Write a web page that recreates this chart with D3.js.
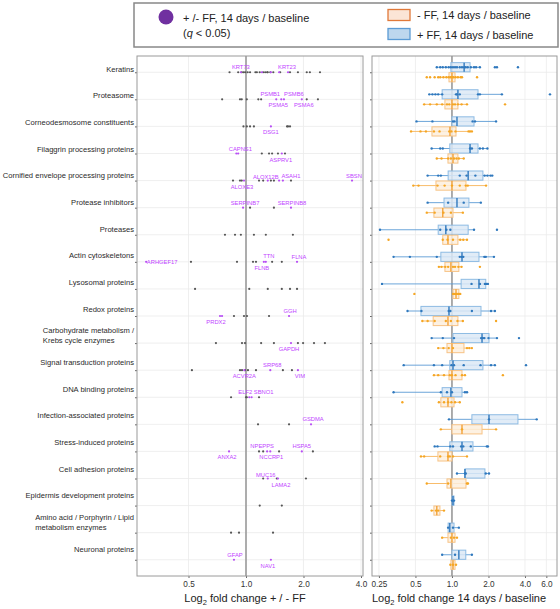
<!DOCTYPE html>
<html>
<head>
<meta charset="utf-8">
<title>Fold change by protein category</title>
<script src="https://d3js.org/d3.v7.min.js"></script>
<style>
  body { margin: 0; background: #fff; }
  text { font-family: "Liberation Sans", Arial, sans-serif; }
</style>
</head>
<body>
<div id="chart"></div>
<script>
// ---- data (fold changes, plotted on log2 axes) ----
const categories = [
  "Keratins", "Proteasome", "Corneodesmosome constituents", "Filaggrin processing proteins",
  "Cornified envelope processing proteins", "Protease inhibitors", "Proteases",
  "Actin cytoskeletons", "Lysosomal proteins", "Redox proteins",
  "Carbohydrate metabolism /\nKrebs cycle enzymes", "Signal transduction proteins",
  "DNA binding proteins", "Infection-associated proteins", "Stress-induced proteins",
  "Cell adhesion proteins", "Epidermis development proteins",
  "Amino acid / Porphyrin / Lipid\nmetabolism enzymes", "Neuronal proteins"
];

// + / - FF, non significant proteins (one array per category)
const nsFC = [
  [0.82, 0.91, 0.95, 0.97, 0.99, 1.02, 1.05, 1.12, 1.14, 1.18, 1.23, 1.26, 1.29, 1.30, 1.34, 1.39, 1.51, 1.70, 1.87, 2.08, 2.16, 2.44],
  [0.75, 0.93, 0.95, 1.01, 1.16, 1.20, 2.08, 2.38],
  [0.97, 1.01, 1.05, 1.10, 1.64, 1.66, 1.70],
  [1.21, 1.32, 1.37, 1.47, 1.60],
  [0.855, 0.93, 0.95, 1.17, 1.23, 1.35, 1.40, 1.72],
  [1.05, 1.40],
  [0.776, 0.876, 0.94, 1.10, 1.27, 1.76],
  [0.515, 0.897, 1.088, 1.128, 1.37, 1.54],
  [0.541, 1.04, 1.30, 1.54, 1.70, 1.85],
  [0.865, 0.976, 1.012, 1.32],
  [0.696, 0.953, 0.988, 1.2, 1.40, 1.87, 1.99, 2.27, 2.59],
  [0.521, 0.93, 0.953, 0.988, 1.024, 1.128, 1.56, 1.74],
  [0.835, 1.0, 1.01, 1.17],
  [1.156, 1.68],
  [1.17, 1.23, 1.49, 2.24],
  [1.23, 1.45, 2.06],
  [1.18, 1.54],
  [0.835, 0.919, 1.385],
  []
];

// + / - FF, significant proteins (q < 0.05)
const sigGene = ["KRT73", "KRT23", "", "", "",
  "PSMB1", "PSMA5", "PSMB6", "PSMA6", "DSG1", "CAPNS1", "", "ASPRV1",
  "ALOXE3", "ALOX12B", "", "ASAH1", "SBSN", "SERPINB7", "SERPINB8",
  "ARHGEF17", "FLNB", "TTN", "FLNA", "PRDX2", "", "GGH", "GAPDH",
  "ACVR2A", "SRP68", "VIM", "ELF2", "SBNO1", "GSDMA",
  "ANXA2", "NPEPPS", "NCCRP1", "HSPA5", "MUC16", "LAMA2", "GFAP", "NAV1"];
const sigCat = [0, 0, 0, 0, 0,
  1, 1, 1, 1, 2, 3, 3, 3,
  4, 4, 4, 4, 4, 5, 5,
  7, 7, 7, 7, 9, 9, 9, 10,
  11, 11, 11, 12, 12, 13,
  14, 14, 14, 14, 15, 15, 18, 18];
const sigFC = [0.94, 1.66, 1.21, 1.35, 1.49,
  1.44, 1.53, 1.58, 1.96, 1.35, 0.89, 0.91, 1.54,
  0.976, 1.30, 1.49, 1.56, 3.59, 0.965, 1.72,
  0.30, 1.24, 1.27, 1.85, 0.731, 0.749, 1.68, 1.72,
  0.98, 1.34, 1.87, 1.04, 1.07, 2.19,
  0.815, 1.29, 1.34, 1.96, 1.30, 1.47, 0.865, 1.35];

// 14 days / baseline boxplots: [lower whisker, q1, median, q3, upper whisker]
const plusBox = [
  [0.75, 0.98, 1.26, 1.41, 1.70], [0.65, 0.83, 1.12, 1.64, 2.58], [0.51, 1.0, 1.10, 1.52, 2.31],
  [0.68, 0.96, 1.41, 1.64, 1.98], [0.63, 0.93, 1.36, 1.80, 2.18], [0.63, 0.86, 1.10, 1.38, 1.73],
  [0.255, 0.77, 0.89, 1.36, 1.52], [0.33, 0.81, 1.21, 1.67, 2.22], [0.265, 1.19, 1.67, 1.90, 1.98],
  [0.43, 0.555, 0.945, 1.735, 2.26], [0.68, 1.02, 1.77, 2.02, 2.35], [0.40, 0.96, 1.02, 1.80, 2.26],
  [0.33, 0.83, 0.98, 1.21, 1.36], [0.945, 1.46, 2.02, 3.50, 5.0], [0.72, 0.96, 1.21, 1.49, 1.98],
  [1.10, 1.28, 1.28, 1.87, 2.02], [1.0, 1.0, 1.02, 1.04, 1.04], [0.93, 0.93, 0.96, 1.04, 1.14],
  [0.83, 1.0, 1.14, 1.30, 1.46]
];
const plusPts = [
  [0.75, 0.80, 0.84, 0.89, 0.94, 0.98, 1.02, 1.06, 1.10, 1.16, 1.21, 1.26, 1.30, 1.35, 1.43, 1.52, 1.58, 1.70, 2.26, 2.35, 3.50],
  [0.65, 0.69, 0.73, 0.77, 0.83, 1.08, 1.10, 1.16, 1.64, 1.70, 2.58, 6.43],
  [0.51, 0.69, 1.02, 1.05, 1.48, 1.55, 2.31],
  [0.68, 0.80, 0.84, 1.41, 1.46, 1.70, 1.80, 1.96],
  [0.63, 0.77, 0.81, 1.16, 1.32, 1.56, 1.86, 1.96, 2.08, 2.15],
  [0.63, 0.93, 1.25, 1.73],
  [0.255, 0.80, 0.90, 0.97, 1.52, 2.35],
  [0.33, 0.45, 0.75, 1.16, 1.20, 1.24, 1.85, 1.90, 2.22],
  [0.265, 1.45, 1.70, 1.87, 1.92, 1.98],
  [0.43, 0.56, 0.94, 0.97, 1.46, 2.10, 2.26],
  [0.68, 0.84, 1.04, 1.74, 1.80, 1.85, 2.0, 2.35, 3.57],
  [0.40, 0.71, 0.83, 0.99, 1.04, 1.25, 1.72, 2.10, 2.26, 4.08],
  [0.33, 0.81, 0.91, 1.0, 1.28, 1.33],
  [0.945, 2.02, 5.0],
  [0.72, 0.76, 0.97, 1.02, 1.19, 1.24, 1.43, 1.94, 1.98],
  [1.10, 1.28, 1.30, 1.90, 2.02],
  [1.0, 1.02, 1.04],
  [0.93, 1.02, 1.14],
  [0.83, 1.06, 1.46]
];
const minusBox = [
  [0.80, 0.945, 1.0, 1.06, 1.21], [0.59, 0.875, 1.0, 1.12, 1.33], [0.46, 0.684, 0.963, 1.08, 1.46],
  [0.75, 0.927, 1.02, 1.12, 1.26], [0.477, 0.738, 1.0, 1.305, 1.905], [0.62, 0.71, 0.84, 1.02, 1.23],
  [0.83, 0.84, 0.927, 1.12, 1.33], [0.78, 0.875, 0.98, 1.14, 1.21], [1.02, 1.02, 1.08, 1.14, 1.17],
  [0.566, 0.70, 0.927, 1.12, 1.23], [0.766, 0.91, 1.0, 1.256, 1.46], [0.71, 0.945, 1.0, 1.21, 1.305],
  [0.78, 0.81, 0.927, 1.04, 1.16], [0.81, 1.0, 1.21, 1.77, 2.31], [0.555, 0.766, 0.927, 1.0, 1.33],
  [0.62, 0.91, 0.98, 1.305, 1.355], [0.684, 0.71, 0.75, 0.796, 0.86], [0.827, 0.927, 1.0, 1.06, 1.10],
  [0.97, 0.98, 1.02, 1.06, 1.08]
];
const minusPts = [
  [0.62, 0.66, 0.72, 0.77, 0.80, 0.85, 0.90, 0.94, 0.97, 1.0, 1.03, 1.07, 1.12, 1.18, 1.21, 1.61],
  [0.59, 0.66, 0.75, 0.83, 0.91, 0.95, 1.02, 1.06, 1.12, 1.20, 1.33, 2.74],
  [0.46, 0.55, 0.61, 0.71, 0.79, 0.95, 0.99, 1.07, 1.37, 1.41, 1.46],
  [0.75, 0.82, 0.93, 0.98, 1.04, 1.09, 1.14, 1.25],
  [0.48, 0.53, 0.76, 0.87, 1.0, 1.16, 1.30, 1.35, 1.91],
  [0.62, 0.72, 0.85, 0.98, 1.23],
  [0.30, 0.84, 0.92, 1.02, 1.17, 1.24, 1.33],
  [0.78, 0.82, 0.88, 0.93, 1.02, 1.06, 1.13, 1.20, 1.70],
  [0.49, 1.02, 1.06, 1.10, 1.14, 1.17],
  [0.57, 0.63, 0.72, 0.89, 0.98, 1.11, 1.23, 2.31],
  [0.77, 0.85, 0.94, 1.02, 1.33, 1.39, 1.46],
  [0.71, 0.77, 0.86, 0.96, 1.0, 1.07, 1.21, 1.28, 2.63],
  [0.39, 0.78, 0.86, 0.93, 0.99, 1.06, 1.16],
  [0.81, 1.21, 2.31],
  [0.555, 0.59, 0.80, 0.93, 0.96, 1.02, 1.33],
  [0.62, 0.93, 1.33, 1.355],
  [0.68, 0.74, 0.77, 0.86],
  [0.83, 0.98, 1.04, 1.10],
  [0.97, 1.02, 1.08]
];

const leftTicks = [0.5, 1, 2, 4];
const rightTicks = [0.25, 0.5, 1, 2, 4, 6];
const rightTickLabels = ["0.25", "0.5", "1.0", "2.0", "4.0", "6.0"];

// label placement for the repelled gene names: [dx, dy] from the point
const labelNudge = {
  KRT73: [0, -5], KRT23: [-1, -5], PSMB1: [-6, -5], PSMB6: [10, -5], PSMA5: [-3, 6], PSMA6: [2, 6],
  DSG1: [0, 6], CAPNS1: [4, -5], ASPRV1: [-1, 6], ALOXE3: [-2, 6], ALOX12B: [-2, -4], ASAH1: [8, -5],
  SBSN: [2, -5], SERPINB7: [2, -5], SERPINB8: [1, -5], ARHGEF17: [16, 0], FLNB: [-2, 6], TTN: [3, -6],
  FLNA: [2, -5], PRDX2: [-4, 6], GGH: [1, -5], GAPDH: [-2, 6], SRP68: [2, -5], ACVR2A: [0, 6],
  VIM: [2, 6], ELF2: [-4, -5], SBNO1: [12, -5], GSDMA: [2, -5], ANXA2: [-2, 6], NPEPPS: [-5, -5],
  NCCRP1: [1, 6], HSPA5: [0, -5], MUC16: [-2, -4], LAMA2: [3, 6], GFAP: [1, -5], NAV1: [-3, 6]
};

// ---- layout ----
const W = 560, H = 609;
const panelTop = 56, panelBottom = 576;
const L = {x0: 137, x1: 363};
const R = {x0: 372, x1: 557};

const svg = d3.select("#chart").append("svg")
  .attr("width", W).attr("height", H);

const yScale = d3.scalePoint()
  .domain(categories)
  .range([panelTop, panelBottom])
  .padding(0.6);

// the category names sit on a slightly tighter spacing than the rows
const yLabel = d3.scalePoint()
  .domain(categories)
  .range([69, 549]);

const xLeft = d3.scaleLog().base(2)
  .domain([Math.pow(2, -1.896), Math.pow(2, 2.035)])
  .range([L.x0, L.x1]);

const xRight = d3.scaleLog().base(2)
  .domain([Math.pow(2, -2.19), Math.pow(2, 2.877)])
  .range([R.x0, R.x1]);

function panel(p, xs, ticks, fmt) {
  const g = svg.append("g");
  g.append("rect")
    .attr("x", p.x0).attr("y", panelTop)
    .attr("width", p.x1 - p.x0).attr("height", panelBottom - panelTop)
    .attr("fill", "#fff");
  // grid
  g.selectAll(".vg").data(ticks).enter().append("line")
    .attr("x1", d => xs(d)).attr("x2", d => xs(d))
    .attr("y1", panelTop).attr("y2", panelBottom)
    .attr("stroke", "#ebebeb").attr("stroke-width", 0.8);
  g.selectAll(".hg").data(categories).enter().append("line")
    .attr("x1", p.x0).attr("x2", p.x1)
    .attr("y1", d => yScale(d)).attr("y2", d => yScale(d))
    .attr("stroke", "#ebebeb").attr("stroke-width", 0.8);
  // reference line at 1.0
  g.append("line")
    .attr("x1", xs(1)).attr("x2", xs(1))
    .attr("y1", panelTop).attr("y2", panelBottom)
    .attr("stroke", "#9a9a9a").attr("stroke-width", 1.6);
  // x axis
  const xAxis = d3.axisBottom(xs).tickValues(ticks).tickFormat(fmt)
    .tickSize(2).tickPadding(3);
  const ax = svg.append("g")
    .attr("transform", "translate(0," + panelBottom + ")")
    .call(xAxis);
  ax.select(".domain").remove();
  ax.selectAll("line").attr("stroke", "#666");
  ax.selectAll("text").attr("font-size", "8.2px").attr("fill", "#333")
    .attr("font-family", "Liberation Sans, Arial, sans-serif");
  // y axis ticks (no labels)
  const yAxis = d3.axisLeft(yScale).tickSize(2).tickFormat("");
  const ay = svg.append("g").attr("transform", "translate(" + p.x0 + ",0)").call(yAxis);
  ay.select(".domain").remove();
  ay.selectAll("line").attr("stroke", "#666");
  return g;
}

const gl = panel(L, xLeft, leftTicks, d3.format(".1f"));
const gr = panel(R, xRight, rightTicks, (d, i) => rightTickLabels[i]);

// ---- left panel: + / - FF ----
const nsPoints = [];
nsFC.forEach((arr, i) => arr.forEach(v => nsPoints.push({cat: categories[i], fc: v})));
gl.selectAll(".ns").data(nsPoints).enter().append("circle")
  .attr("cx", d => xLeft(d.fc)).attr("cy", d => yScale(d.cat))
  .attr("r", 1.1).attr("fill", "#555");

const sigPoints = sigGene.map((g, k) => ({gene: g, cat: categories[sigCat[k]], fc: sigFC[k]}));
gl.selectAll(".sig").data(sigPoints).enter().append("circle")
  .attr("cx", d => xLeft(d.fc)).attr("cy", d => yScale(d.cat))
  .attr("r", 1.1).attr("fill", "#b84df5");

gl.selectAll(".lab").data(sigPoints.filter(d => d.gene)).enter().append("text")
  .attr("x", d => xLeft(d.fc) + labelNudge[d.gene][0])
  .attr("y", d => yScale(d.cat) + labelNudge[d.gene][1])
  .attr("text-anchor", "middle")
  .attr("dominant-baseline", "central")
  .attr("font-size", "5.8px")
  .attr("fill", "#bf45ff")
  .text(d => d.gene);

// ---- right panel: boxplots ----
const series = [
  {box: plusBox, pts: plusPts, dy: -5, fill: "#dce9f6", stroke: "#8dbbe3", med: "#2f78bd", pt: "#2f78bd", wh: "#5b9bd5"},
  {box: minusBox, pts: minusPts, dy: 5, fill: "#fdeedd", stroke: "#f7c386", med: "#f2a23a", pt: "#f5a623", wh: "#f7b45a"}
];
const bh = 4.6;
series.forEach(s => {
  categories.forEach((c, i) => {
    const y = yScale(c) + s.dy;
    const b = s.box[i];
    gr.append("line")
      .attr("x1", xRight(b[0])).attr("x2", xRight(b[4]))
      .attr("y1", y).attr("y2", y)
      .attr("stroke", s.wh).attr("stroke-width", 0.9);
    gr.append("rect")
      .attr("x", xRight(b[1])).attr("y", y - bh)
      .attr("width", Math.max(xRight(b[3]) - xRight(b[1]), 1)).attr("height", bh * 2)
      .attr("fill", s.fill).attr("fill-opacity", 0.85)
      .attr("stroke", s.stroke).attr("stroke-width", 1);
    gr.append("line")
      .attr("x1", xRight(b[2])).attr("x2", xRight(b[2]))
      .attr("y1", y - bh).attr("y2", y + bh)
      .attr("stroke", s.med).attr("stroke-width", 1.4);
    gr.selectAll(null).data(s.pts[i]).enter().append("circle")
      .attr("cx", d => xRight(d)).attr("cy", y)
      .attr("r", 1.2).attr("fill", s.pt);
  });
});

// panel borders
[L, R].forEach(p => {
  svg.append("rect")
    .attr("x", p.x0).attr("y", panelTop)
    .attr("width", p.x1 - p.x0).attr("height", panelBottom - panelTop)
    .attr("fill", "none").attr("stroke", "#9a9a9a").attr("stroke-width", 1);
});

// ---- category labels (block left-aligned, right edge at the axis) ----
categories.forEach(c => {
  const lines = c.split("\n");
  const t = svg.append("text")
    .attr("font-size", "7.6px").attr("fill", "#2a2a2a");
  lines.forEach((ln, k) => {
    t.append("tspan").attr("x", 0)
      .attr("y", yLabel(c) + (k - (lines.length - 1) / 2) * 9.5)
      .attr("dominant-baseline", "central")
      .text(ln);
  });
  const wmax = d3.max(t.selectAll("tspan").nodes(), n => n.getComputedTextLength());
  t.attr("transform", "translate(" + (L.x0 - 3 - wmax) + ",0)");
});

// ---- axis titles ----
function axisTitle(x, y, before, after) {
  const t = svg.append("text").attr("x", x).attr("y", y)
    .attr("text-anchor", "middle").attr("font-size", "11px").attr("fill", "#222");
  t.append("tspan").text(before);
  t.append("tspan").attr("font-size", "7.5px").attr("dy", 3).text("2");
  t.append("tspan").attr("dy", -3).text(after);
}
axisTitle(245, 602, "Log", " fold change + / - FF");
axisTitle(459, 602, "Log", " fold change 14 days / baseline");

// ---- legend ----
const lg = svg.append("g");
lg.append("rect").attr("x", 134).attr("y", 3).attr("width", 424).attr("height", 44)
  .attr("fill", "#fff").attr("stroke", "#888").attr("stroke-width", 1.5);
lg.append("circle").attr("cx", 166).attr("cy", 17).attr("r", 7.5).attr("fill", "#7030a0");
lg.append("text").attr("x", 183).attr("y", 21.5).attr("font-size", "11px").attr("fill", "#222")
  .text("+ /- FF, 14 days / baseline");
const q = lg.append("text").attr("x", 183).attr("y", 37).attr("font-size", "11px").attr("fill", "#222");
q.append("tspan").text("(");
q.append("tspan").attr("font-style", "italic").text("q");
q.append("tspan").text(" < 0.05)");
lg.append("rect").attr("x", 388).attr("y", 9.5).attr("width", 22).attr("height", 11)
  .attr("fill", "#fbe5d6").attr("stroke", "#e0793a").attr("stroke-width", 1.3);
lg.append("text").attr("x", 417).attr("y", 19).attr("font-size", "11px").attr("fill", "#222")
  .text("- FF, 14 days / baseline");
lg.append("rect").attr("x", 388).attr("y", 28.5).attr("width", 22).attr("height", 11)
  .attr("fill", "#bdd7ee").attr("stroke", "#5b9bd5").attr("stroke-width", 1.3);
lg.append("text").attr("x", 417).attr("y", 38.5).attr("font-size", "11px").attr("fill", "#222")
  .text("+ FF, 14 days / baseline");
</script>
</body>
</html>
